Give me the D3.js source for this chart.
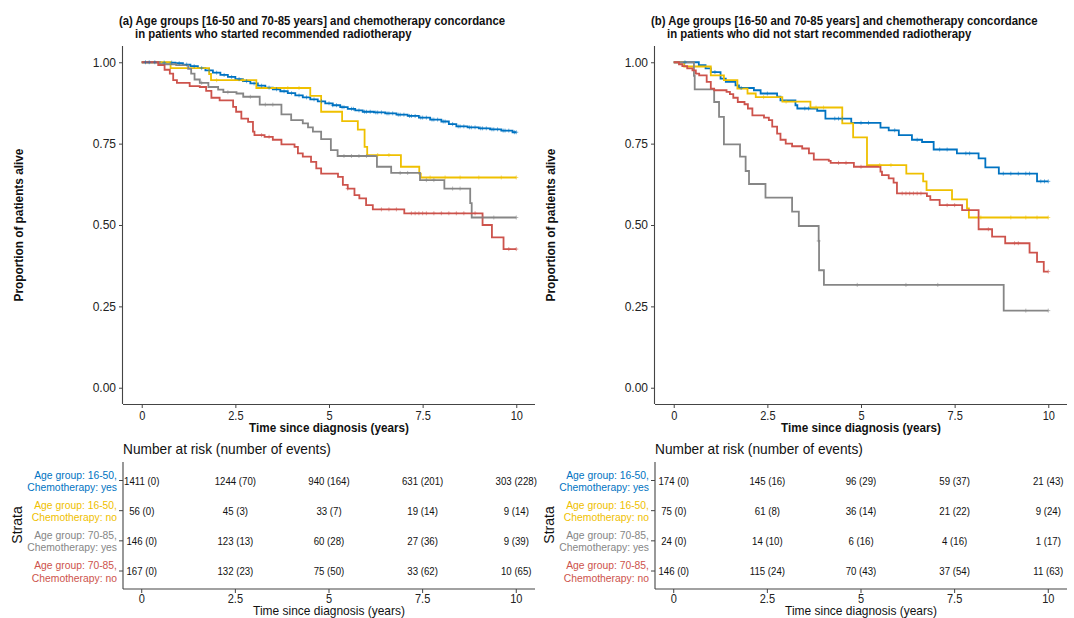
<!DOCTYPE html>
<html>
<head>
<meta charset="utf-8">
<script src="https://cdn.jsdelivr.net/npm/d3@7"></script>
<style>
  body { margin: 0; background: #fff; }
  svg { font-family: "Liberation Sans", Arial, sans-serif; }
</style>
</head>
<body>
<div id="chart"></div>
<script>
// colours (jco palette) and strata
const strataColors = ["#0073C2", "#EFC000", "#868686", "#CD534C"];
const strataLabels = [
    ["Age group: 16-50,", "Chemotherapy: yes"],
    ["Age group: 16-50,", "Chemotherapy: no"],
    ["Age group: 70-85,", "Chemotherapy: yes"],
    ["Age group: 70-85,", "Chemotherapy: no"]
];
const xTicks = [0, 2.5, 5, 7.5, 10];
const yTicks = [0, 0.25, 0.5, 0.75, 1];
const riskTimes = [0, 2.5, 5, 7.5, 10];

const titlesA = ["(a) Age groups [16-50 and 70-85 years] and chemotherapy concordance", "in patients who started recommended radiotherapy"];
const titlesB = ["(b) Age groups [16-50 and 70-85 years] and chemotherapy concordance", "in patients who did not start recommended radiotherapy"];

// panel (a) survival steps [time, survival]
const survA_youngYes = [[0,1],[0.5,0.999],[0.9,0.997],[1.1,0.993],[1.3,0.988],[1.5,0.982],[1.7,0.975],[1.9,0.968],[2.1,0.961],[2.3,0.955],[2.5,0.948],[2.7,0.942],[2.9,0.935],[3.1,0.928],[3.3,0.922],[3.5,0.917],[3.7,0.911],[3.9,0.905],[4.1,0.898],[4.3,0.892],[4.5,0.886],[4.7,0.880],[4.9,0.874],[5.1,0.868],[5.3,0.862],[5.5,0.857],[5.7,0.852],[5.9,0.848],[6.2,0.846],[6.5,0.843],[6.8,0.839],[7.1,0.835],[7.4,0.830],[7.7,0.824],[8.0,0.818],[8.2,0.810],[8.4,0.803],[8.7,0.800],[9.0,0.797],[9.3,0.794],[9.6,0.790],[9.9,0.785]];
const survA_youngNo = [[0,1],[0.77,0.982],[1.8,0.964],[1.85,0.945],[3.06,0.921],[4.5,0.897],[4.79,0.848],[5.35,0.819],[5.77,0.793],[5.95,0.740],[6.02,0.715],[6.92,0.679],[7.41,0.658],[7.45,0.646]];
const survA_oldYes = [[0,1],[0.48,0.994],[0.92,0.991],[1.24,0.980],[1.32,0.965],[1.41,0.947],[1.55,0.937],[1.78,0.924],[2.04,0.916],[2.18,0.908],[2.53,0.904],[2.71,0.894],[3.15,0.870],[3.73,0.840],[3.99,0.822],[4.3,0.812],[4.44,0.800],[4.57,0.787],[4.79,0.764],[5.05,0.730],[5.23,0.712],[6.28,0.679],[6.66,0.660],[7.43,0.638],[8.08,0.612],[8.77,0.567],[8.81,0.523]];
const survA_oldNo = [[0,1],[0.44,0.991],[0.61,0.977],[0.75,0.965],[0.84,0.945],[0.94,0.937],[1.28,0.927],[1.55,0.924],[1.72,0.912],[1.86,0.891],[2.08,0.883],[2.44,0.863],[2.52,0.848],[2.66,0.827],[2.84,0.817],[2.97,0.787],[3.01,0.776],[3.28,0.771],[3.5,0.762],[3.73,0.748],[4.08,0.740],[4.17,0.720],[4.3,0.710],[4.52,0.694],[4.66,0.674],[4.79,0.658],[5.24,0.648],[5.37,0.623],[5.5,0.612],[5.68,0.592],[5.81,0.582],[5.99,0.561],[6.17,0.548],[7.01,0.536],[9.1,0.500],[9.35,0.462],[9.66,0.426]];

// panel (b) survival steps
const survB_youngYes = [[0,1],[0.67,0.991],[0.85,0.981],[0.99,0.970],[1.25,0.950],[1.39,0.940],[1.65,0.929],[1.74,0.921],[2.14,0.914],[2.32,0.904],[2.76,0.894],[2.85,0.883],[3.25,0.868],[3.3,0.858],[3.83,0.851],[4.05,0.827],[4.74,0.814],[5.52,0.799],[5.74,0.791],[6.01,0.776],[6.36,0.762],[6.63,0.755],[6.94,0.732],[7.56,0.720],[8.14,0.705],[8.32,0.677],[8.68,0.658],[9.7,0.634]];
const survB_youngNo = [[0,1],[0.28,0.987],[0.99,0.960],[1.34,0.945],[1.7,0.919],[1.97,0.904],[2.19,0.893],[2.9,0.879],[3.65,0.861],[4.5,0.812],[4.79,0.769],[5.16,0.684],[6.21,0.658],[6.66,0.634],[6.75,0.607],[7.43,0.579],[7.83,0.551],[7.88,0.523]];
const survB_oldYes = [[0,1],[0.54,0.958],[0.56,0.917],[1.08,0.878],[1.21,0.832],[1.34,0.748],[1.77,0.710],[1.92,0.666],[2.01,0.626],[2.45,0.584],[3.16,0.541],[3.34,0.497],[3.87,0.451],[3.88,0.361],[4.01,0.316],[8.81,0.237]];
const survB_oldNo = [[0,1],[0.14,0.994],[0.23,0.988],[0.36,0.981],[0.5,0.975],[0.59,0.965],[0.68,0.960],[0.88,0.940],[0.99,0.919],[1.08,0.914],[1.41,0.909],[1.5,0.902],[1.59,0.891],[1.71,0.878],[1.89,0.871],[1.98,0.858],[2.1,0.837],[2.41,0.830],[2.54,0.822],[2.63,0.802],[2.76,0.781],[2.85,0.762],[2.99,0.750],[3.16,0.742],[3.43,0.735],[3.61,0.720],[3.74,0.701],[4.14,0.697],[4.19,0.691],[4.81,0.679],[5.52,0.664],[5.56,0.653],[5.74,0.643],[5.87,0.630],[5.96,0.597],[6.76,0.589],[6.85,0.577],[7.1,0.561],[7.7,0.546],[8.14,0.487],[8.5,0.464],[8.85,0.444],[9.5,0.415],[9.7,0.387],[9.88,0.357]];

// censoring times (marks)
const censA_youngYes = [0.1,0.2,0.35,0.6,0.8,1.0,1.2,1.4,1.6,1.8,2.0,2.2,2.4,2.6,2.8,3.0,3.2,3.4,3.6,3.8,4.0,4.2,4.4,4.6,4.8,5.0,5.1,5.2,5.35,5.4,5.6,5.65,5.8,5.95,6.0,6.1,6.25,6.3,6.4,6.55,6.6,6.7,6.85,6.9,7.0,7.15,7.2,7.3,7.45,7.5,7.6,7.75,7.8,7.9,8.05,8.1,8.3,8.45,8.5,8.6,8.75,8.8,8.9,9.05,9.1,9.2,9.35,9.4,9.5,9.65,9.7,9.8,9.95,10];
const censA_youngNo = [2.0,2.7,3.9,4.2,6.3,6.6,7.7,8.1,8.5,9.0,9.6,10];
const censA_oldYes = [1.6,2.3,2.9,3.3,3.5,5.4,5.6,5.8,6.0,6.9,7.1,7.6,7.8,8.3,8.5,9.1,9.4,10];
const censA_oldNo = [3.2,3.4,5.5,6.4,6.6,6.8,7.2,7.3,7.4,7.5,7.6,7.8,8.0,8.2,8.4,8.6,8.9,9.8,10];
const censB_youngYes = [0.3,1.1,1.8,2.5,3.5,3.6,4.3,4.4,4.5,5.0,5.2,5.9,6.5,7.1,7.3,7.8,7.9,8.8,9.0,9.2,9.4,9.5,9.8,9.9,10];
const censB_youngNo = [2.4,3.0,3.8,4.0,5.5,5.8,8.2,9.0,9.4,9.7,10];
const censB_oldYes = [3.87,4.9,6.2,7.05,9.4,10];
const censB_oldNo = [4.4,4.6,5.0,6.1,6.2,6.3,6.4,6.5,6.6,7.3,7.5,8.4,9.1,9.2,10];

// number at risk (number of events)
const atRiskA = [[1411,1244,940,631,303],[56,45,33,19,9],[146,123,60,27,9],[167,132,75,33,10]];
const eventsA = [[0,70,164,201,228],[0,3,7,14,14],[0,13,28,36,39],[0,23,50,62,65]];
const atRiskB = [[174,145,96,59,21],[75,61,36,21,9],[24,14,6,4,1],[146,115,70,37,11]];
const eventsB = [[0,16,29,37,43],[0,8,14,22,24],[0,10,16,16,17],[0,24,43,54,63]];

const W = 1074, H = 618;
const svg = d3.select("#chart").append("svg").attr("width", W).attr("height", H);

const axisColor = "#444";

function stepValue(curve, t){
    const i = d3.bisector(d => d[0]).right(curve, t) - 1;
    return curve[Math.max(i, 0)][1];
}

// text squeezed horizontally (the reference type is narrower than Arial)
function addText(parent, x, y, str, opts = {}){
    const g = parent.append("g");
    const t = g.append("text")
        .attr("font-size", opts.size || 12)
        .attr("font-weight", opts.weight || "normal")
        .attr("text-anchor", opts.anchor || "start")
        .attr("fill", opts.fill || "#111")
        .text(str);
    let sx = opts.sx || 1;
    if(opts.length){
        sx = opts.length / t.node().getComputedTextLength();
    }
    g.attr("transform", `translate(${x},${y})` + (opts.rotate ? ` rotate(${opts.rotate})` : "") + ` scale(${sx},1)`);
    return t;
}

function drawPanel(left, titles, curves, censors, atRisk, events){
    const x = d3.scaleLinear().domain([-0.5, 10.5]).range([left, left + 412]);
    const y = d3.scaleLinear().domain([-0.05, 1.05]).range([404, 46]);
    const g = svg.append("g");

    // title
    addText(g, left - 4, 25, titles[0], {size: 12.5, weight: "bold", sx: 0.91});
    addText(g, left + 12, 38, titles[1], {size: 12.5, weight: "bold", sx: 0.91});

    // axes
    const xAxis = d3.axisBottom(x).tickValues(xTicks).tickFormat(d3.format("")).tickSize(4).tickSizeOuter(0);
    const yAxis = d3.axisLeft(y).tickValues(yTicks).tickFormat(d3.format(".2f")).tickSize(4).tickSizeOuter(0);
    const gx = g.append("g").attr("transform", `translate(0,404)`).call(xAxis);
    const gy = g.append("g").attr("transform", `translate(${left},0)`).call(yAxis);
    [gx, gy].forEach(a => {
        a.select(".domain").attr("stroke", axisColor).attr("stroke-width", 1.1);
        a.selectAll(".tick line").attr("stroke", axisColor);
        a.selectAll(".tick text").attr("font-size", 12).attr("fill", "#222")
            .attr("font-family", "Liberation Sans, Arial, sans-serif");
    });
    gx.selectAll(".tick text").attr("transform", "scale(0.92,1)");
    gx.select(".domain").attr("d", `M${left},0.5H${left + 412}`);
    gy.select(".domain").attr("d", `M-0.5,404V46`);

    addText(g, left + 206, 432, "Time since diagnosis (years)", {size: 12, weight: "bold", anchor: "middle", length: 160});
    addText(g, left - 100, 225, "Proportion of patients alive", {size: 12, weight: "bold", anchor: "middle", rotate: -90, length: 153});

    // survival curves
    const line = d3.line().x(d => x(d[0])).y(d => y(d[1])).curve(d3.curveStepAfter);
    curves.forEach((c, i) => {
        const pts = c.concat([[10, c[c.length - 1][1]]]);
        g.append("path").datum(pts).attr("d", line)
            .attr("fill", "none").attr("stroke", strataColors[i]).attr("stroke-width", 1.8);
    });
    curves.forEach((c, i) => {
        g.selectAll(null).data(censors[i]).join("path")
            .attr("d", t => {
                const cx = x(t), cy = y(stepValue(c, t));
                return `M${cx - 2},${cy}H${cx + 2}M${cx},${cy - 2}V${cy + 2}`;
            })
            .attr("stroke", strataColors[i]).attr("stroke-width", 0.8).attr("opacity", 0.7);
    });

    // risk table
    const rY = d3.scalePoint().domain([0, 1, 2, 3]).range([480.5, 571]);
    addText(g, left, 454, "Number at risk (number of events)", {size: 14, length: 208});
    g.append("line").attr("x1", left).attr("x2", left).attr("y1", 462).attr("y2", 589)
        .attr("stroke", axisColor).attr("stroke-width", 1.1);
    g.append("line").attr("x1", left).attr("x2", left + 412).attr("y1", 589).attr("y2", 589)
        .attr("stroke", axisColor).attr("stroke-width", 1.1);
    xTicks.forEach(t => {
        g.append("line").attr("x1", x(t)).attr("x2", x(t)).attr("y1", 589).attr("y2", 593).attr("stroke", axisColor);
        addText(g, x(t), 603, t, {size: 12, anchor: "middle", fill: "#222", sx: 0.92});
    });
    addText(g, left + 206, 615, "Time since diagnosis (years)", {size: 13, anchor: "middle", length: 152});
    addText(g, left - 101, 525, "Strata", {size: 14, anchor: "middle", rotate: -90});

    strataLabels.forEach((lab, i) => {
        const yy = rY(i);
        g.append("line").attr("x1", left - 4).attr("x2", left).attr("y1", yy).attr("y2", yy).attr("stroke", axisColor);
        addText(g, left - 6, yy - 2, lab[0], {size: 11.5, anchor: "end", fill: strataColors[i], sx: 0.9});
        addText(g, left - 6, yy + 10.5, lab[1], {size: 11.5, anchor: "end", fill: strataColors[i], sx: 0.9});
        riskTimes.forEach((t, j) => {
            addText(g, x(t), yy + 4, `${atRisk[i][j]} (${events[i][j]})`,
                {size: 10.5, anchor: "middle", fill: "#111", sx: 0.92});
        });
    });
}

drawPanel(123, titlesA,
    [survA_youngYes, survA_youngNo, survA_oldYes, survA_oldNo],
    [censA_youngYes, censA_youngNo, censA_oldYes, censA_oldNo],
    atRiskA, eventsA);
drawPanel(655, titlesB,
    [survB_youngYes, survB_youngNo, survB_oldYes, survB_oldNo],
    [censB_youngYes, censB_youngNo, censB_oldYes, censB_oldNo],
    atRiskB, eventsB);
</script>
</body>
</html>
